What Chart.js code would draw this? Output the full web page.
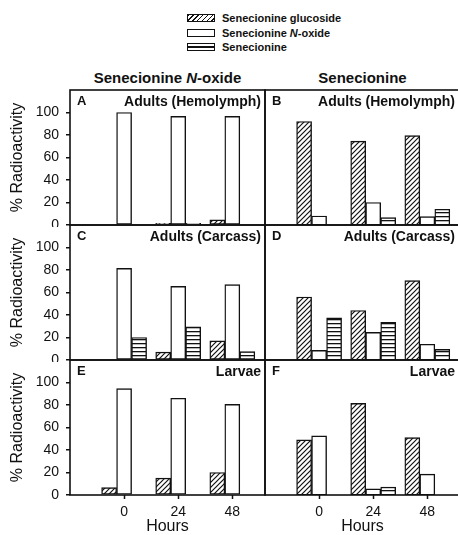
<!DOCTYPE html>
<html lang="en">
<head>
<meta charset="UTF-8">
<title>Senecionine metabolism</title>
<script src="https://cdn.jsdelivr.net/npm/chart.js"></script>
<style>
    html, body { margin: 0; padding: 0; background: #fff; overflow: hidden; width: 458px; height: 535px; }
    body { position: relative; font-family: "Liberation Sans", Arial, sans-serif; color: #111; }
    canvas { position: absolute; }
    .legend { position: absolute; left: 187px; top: 11px; font-size: 11px; font-weight: bold; }
    .legend .row { height: 14.5px; display: flex; align-items: center; white-space: nowrap; }
    .sw { width: 28px; height: 8px; border: 1.3px solid #111; box-sizing: border-box; margin-right: 7px; background: #fff; }
    .sw.hatch { background: repeating-linear-gradient(135deg, #111 0 1.1px, #fff 1.1px 3.4px); }
    .sw.lines { background: linear-gradient(#fff 0 2.3px, #111 2.3px 3.6px, #fff 3.6px); }
    .colhead { position: absolute; top: 69px; width: 195px; text-align: center; font-size: 15px; font-weight: bold; line-height: 18px; white-space: nowrap; }
    .letter { position: absolute; font-size: 13px; font-weight: bold; line-height: 13px; }
    .ptitle { position: absolute; font-size: 14px; font-weight: bold; line-height: 14px; white-space: nowrap; text-align: right; }
</style>
</head>
<body>

<div class="legend">
    <div class="row"><span class="sw hatch"></span>Senecionine glucoside</div>
    <div class="row"><span class="sw"></span>Senecionine&nbsp;<i>N</i>-oxide</div>
    <div class="row"><span class="sw lines"></span>Senecionine</div>
</div>

<div class="colhead" style="left:70px">Senecionine <i>N</i>-oxide</div>
<div class="colhead" style="left:265px">Senecionine</div>

<script>
    // x categories (hours after feeding) and y ticks
    const hours = [0, 24, 48];
    const yTicks = [0, 20, 40, 60, 80, 100];
    const seriesNames = ['Senecionine glucoside', 'Senecionine N-oxide', 'Senecionine'];
    const panelLetters = ['A', 'B', 'C', 'D', 'E', 'F'];
    const panelTitles = ['Adults (Hemolymph)', 'Adults (Hemolymph)', 'Adults (Carcass)', 'Adults (Carcass)', 'Larvae', 'Larvae'];

    // % radioactivity, left column = fed senecionine N-oxide, right column = fed senecionine
    const glucosideA = [0, 1.5, 4.5];
    const noxideA = [100, 96.5, 96.5];
    const senecionineA = [0, 1.5, 0];

    const glucosideB = [92, 74.5, 79.5];
    const noxideB = [8, 20, 7.5];
    const senecionineB = [0, 6.5, 14];

    const glucosideC = [0, 7, 17];
    const noxideC = [81.5, 65.5, 67];
    const senecionineC = [20, 29.5, 7.5];

    const glucosideD = [56, 44, 70.5];
    const noxideD = [8.5, 24.5, 14];
    const senecionineD = [37.5, 33.5, 9.5];

    const glucosideE = [6.5, 15, 20];
    const noxideE = [94.5, 86, 80.5];
    const senecionineE = [0, 0, 0];

    const glucosideF = [49, 81.5, 51];
    const noxideF = [52.5, 5.5, 18.5];
    const senecionineF = [0, 7, 0];

    const panelData = [
        [glucosideA, noxideA, senecionineA],
        [glucosideB, noxideB, senecionineB],
        [glucosideC, noxideC, senecionineC],
        [glucosideD, noxideD, senecionineD],
        [glucosideE, noxideE, senecionineE],
        [glucosideF, noxideF, senecionineF]
    ];

    const ink = '#111';
    Chart.defaults.font.family = '"Liberation Sans", Arial, sans-serif';
    Chart.defaults.color = ink;

    function hatchPattern() {
        const c = document.createElement('canvas');
        c.width = 5; c.height = 5;
        const g = c.getContext('2d');
        g.fillStyle = '#fff'; g.fillRect(0, 0, 5, 5);
        g.strokeStyle = ink; g.lineWidth = 1.2;
        g.beginPath();
        g.moveTo(0, 5); g.lineTo(5, 0);
        g.moveTo(-1, 1); g.lineTo(1, -1);
        g.moveTo(4, 6); g.lineTo(6, 4);
        g.stroke();
        return g.createPattern(c, 'repeat');
    }

    function linePattern() {
        const c = document.createElement('canvas');
        c.width = 4; c.height = 4;
        const g = c.getContext('2d');
        g.fillStyle = '#fff'; g.fillRect(0, 0, 4, 4);
        g.fillStyle = ink; g.fillRect(0, 0, 4, 1.3);
        return g.createPattern(c, 'repeat');
    }

    const fills = [hatchPattern(), '#fff', linePattern()];

    // box around each panel, plus hour tick marks under the bottom panels
    const framePlugin = {
        id: 'frame',
        afterDatasetsDraw(chart, args, opts) {
            const { ctx, chartArea: a } = chart;
            ctx.save();
            ctx.strokeStyle = ink;
            ctx.lineWidth = 1.6;
            ctx.strokeRect(a.left, a.top, a.right - a.left, a.bottom - a.top);
            if (opts.hourTicks) {
                const x = chart.scales.x;
                ctx.lineWidth = 1.5;
                ctx.beginPath();
                hours.forEach(hr => {
                    const px = Math.round(x.getPixelForValue(hr)) + 0.5;
                    ctx.moveTo(px, a.bottom);
                    ctx.lineTo(px, a.bottom + 4);
                });
                ctx.stroke();
            }
            ctx.restore();
        }
    };

    function addPanel(i) {
        const col = i % 2, row = Math.floor(i / 2);
        const left = col === 0 ? 70 : 265, right = left + 195;
        const top = 90 + row * 135;
        const bottomRow = row === 2;

        const canvas = document.createElement('canvas');
        const cx = col === 0 ? 0 : left - 2;
        const w = right + 2 - cx;
        const h = bottomRow ? 535 - (top - 2) : 139;
        canvas.width = w;
        canvas.height = h;
        canvas.style.width = w + 'px';
        canvas.style.height = h + 'px';
        canvas.style.left = cx + 'px';
        canvas.style.top = (top - 2) + 'px';
        document.body.appendChild(canvas);

        new Chart(canvas, {
            type: 'bar',
            data: {
                labels: hours,
                datasets: panelData[i].map((vals, k) => ({
                    label: seriesNames[k],
                    data: vals,
                    backgroundColor: fills[k],
                    borderColor: ink,
                    borderWidth: 1.4,
                    borderSkipped: false,
                    barThickness: 15
                }))
            },
            options: {
                responsive: false,
                maintainAspectRatio: false,
                animation: false,
                events: [],
                layout: { padding: { left: col === 0 ? 0 : 2, right: 2, top: 2, bottom: bottomRow ? 0 : 2 } },
                plugins: {
                    legend: { display: false },
                    tooltip: { enabled: false },
                    frame: { hourTicks: bottomRow }
                },
                scales: {
                    x: {
                        type: 'linear',
                        min: -24,
                        max: 62.5,
                        offset: false,
                        display: bottomRow,
                        afterBuildTicks: s => { s.ticks = hours.map(v => ({ value: v })); },
                        ticks: { font: { size: 14 }, padding: 5, maxRotation: 0, autoSkip: false, includeBounds: false },
                        // keep the tick space for label placement, marks are drawn by the frame plugin
                        grid: { offset: false, drawOnChartArea: false, tickLength: 4, color: 'rgba(0,0,0,0)', lineWidth: 1.5 },
                        border: { display: false },
                        title: { display: true, text: 'Hours', font: { size: 16, lineHeight: 1 }, padding: 0 },
                        afterFit: s => {
                            if (bottomRow) s.height = 40;
                            s.paddingLeft = 0; s.paddingRight = 0;
                        }
                    },
                    y: {
                        min: 0,
                        max: 120,
                        display: col === 0,
                        afterBuildTicks: s => { s.ticks = yTicks.map(v => ({ value: v })); },
                        ticks: { font: { size: 14 }, padding: 7 },
                        grid: { offset: false, drawOnChartArea: false, tickLength: 4, color: ink, lineWidth: 1.5 },
                        border: { display: false },
                        title: { display: true, text: '% Radioactivity', font: { size: 16 }, padding: { top: 8, bottom: 0 } },
                        afterFit: s => {
                            if (col === 0) s.width = 70;
                            s.paddingTop = 0; s.paddingBottom = 0;
                        }
                    }
                }
            },
            plugins: [framePlugin]
        });

        const letter = document.createElement('div');
        letter.className = 'letter';
        letter.textContent = panelLetters[i];
        letter.style.left = (left + 7) + 'px';
        letter.style.top = (top + 4) + 'px';
        document.body.appendChild(letter);

        const title = document.createElement('div');
        title.className = 'ptitle';
        title.textContent = panelTitles[i];
        title.style.right = (458 - (col === 0 ? right - 4 : 455)) + 'px';
        title.style.top = (top + 4) + 'px';
        document.body.appendChild(title);
    }

    for (let i = 0; i < 6; i++) addPanel(i);
</script>
</body>
</html>
